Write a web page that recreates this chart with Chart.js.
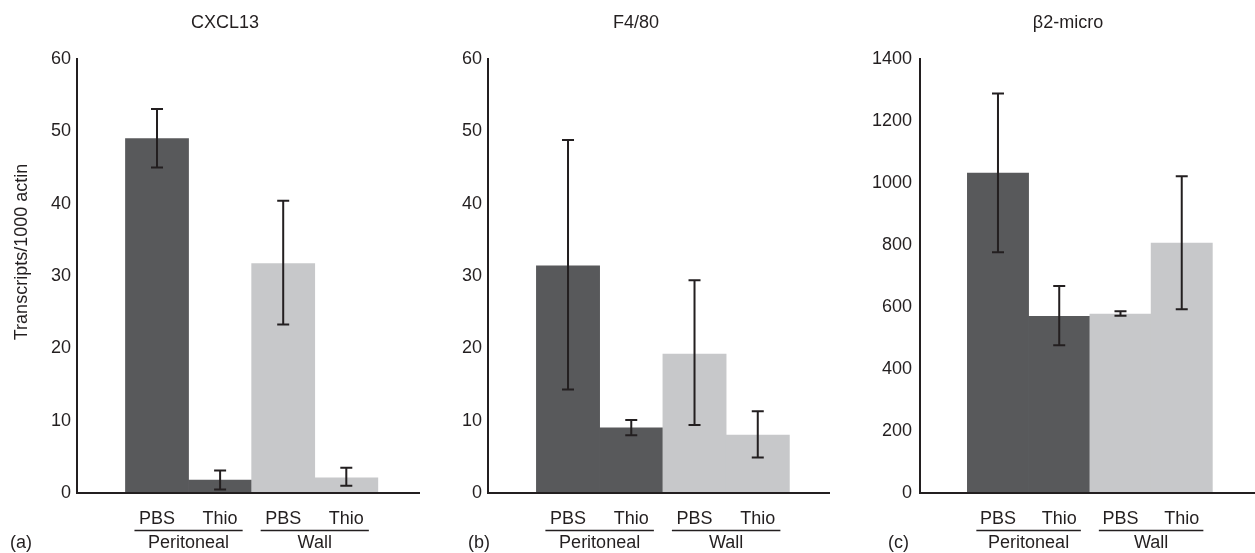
<!DOCTYPE html>
<html><head><meta charset="utf-8">
<script src="https://cdn.jsdelivr.net/npm/chart.js@4/dist/chart.umd.min.js"></script>
<style>
html,body{margin:0;padding:0;background:#fff;overflow:hidden;width:1255px;height:553px}
canvas{position:absolute;top:0}
</style></head><body>
<canvas id="pa" width="420" height="553" style="left:0px"></canvas>
<canvas id="pb" width="410" height="553" style="left:420px"></canvas>
<canvas id="pc" width="425" height="553" style="left:830px"></canvas>
<script>
// ---- data ----
const categories = ['PBS', 'Thio', 'PBS', 'Thio'];
const groupLabels = ['Peritoneal', 'Wall'];
const groupOf = [0, 0, 1, 1];
const titles = ['CXCL13', 'F4/80', 'β2-micro'];
const panelLetters = ['(a)', '(b)', '(c)'];
const yAxisTitle = 'Transcripts/1000 actin';

const cxcl13Mean = [49.0, 1.8, 31.7, 2.1];
const cxcl13Low  = [45.0, 0.5, 23.3, 1.0];
const cxcl13High = [53.1, 3.1, 40.4, 3.5];

const f480Mean = [31.4, 9.0, 19.2, 8.0];
const f480Low  = [14.3, 8.0, 9.4, 4.9];
const f480High = [48.8, 10.1, 29.4, 11.3];

const b2mMean = [1032, 570, 577, 806];
const b2mLow  = [777, 477, 572, 593];
const b2mHigh = [1289, 668, 586, 1022];

const cxcl13Ticks = [0, 10, 20, 30, 40, 50, 60];
const f480Ticks = [0, 10, 20, 30, 40, 50, 60];
const b2mTicks = [0, 200, 400, 600, 800, 1000, 1200, 1400];

// ---- style ----
const DARK = '#58595b', LIGHT = '#c7c8ca', INK = '#231f20';
const barColors = [DARK, DARK, LIGHT, LIGHT];
const FONT = '"Liberation Sans", Arial, Helvetica, sans-serif';

const panels = [
  {id: 'pa', title: titles[0], letter: panelLetters[0], mean: cxcl13Mean, low: cxcl13Low, high: cxcl13High, ticks: cxcl13Ticks,
   axisW: 77, tickPad: 6, xMin: -1.268, xMax: 4.168, letterX: 10, yTitle: true},
  {id: 'pb', title: titles[1], letter: panelLetters[1], mean: f480Mean, low: f480Low, high: f480High, ticks: f480Ticks,
   axisW: 68, tickPad: 6, xMin: -1.265, xMax: 4.142, letterX: 48, yTitle: false},
  {id: 'pc', title: titles[2], letter: panelLetters[2], mean: b2mMean, low: b2mLow, high: b2mHigh, ticks: b2mTicks,
   axisW: 90, tickPad: 8, xMin: -1.273, xMax: 4.196, letterX: 58, yTitle: false}
];

function errorBarsPlugin(p) {
  return {
    id: 'errorBars',
    afterDatasetsDraw(chart) {
      const meta = chart.getDatasetMeta(0);
      const ys = chart.scales.y;
      const ctx = chart.ctx;
      ctx.save();
      ctx.strokeStyle = INK;
      ctx.lineWidth = 2;
      meta.data.forEach((bar, i) => {
        const x = bar.x;
        const yl = ys.getPixelForValue(p.low[i]);
        const yh = ys.getPixelForValue(p.high[i]);
        ctx.beginPath();
        ctx.moveTo(x, yl); ctx.lineTo(x, yh);
        ctx.moveTo(x - 6, yl); ctx.lineTo(x + 6, yl);
        ctx.moveTo(x - 6, yh); ctx.lineTo(x + 6, yh);
        ctx.stroke();
      });
      ctx.restore();
    }
  };
}

function panelTextPlugin(p) {
  return {
    id: 'panelText',
    afterDraw(chart) {
      const ctx = chart.ctx, ca = chart.chartArea;
      const meta = chart.getDatasetMeta(0);
      ctx.save();
      ctx.fillStyle = INK;
      ctx.strokeStyle = INK;
      ctx.font = '18px ' + FONT;
      ctx.textBaseline = 'alphabetic';
      ctx.textAlign = 'center';
      ctx.fillText(p.title, ca.left + 148, 28);
      groupLabels.forEach((g, gi) => {
        const idx = groupOf.map((v, i) => (v === gi ? i : -1)).filter(i => i >= 0);
        const first = meta.data[idx[0]], last = meta.data[idx[idx.length - 1]];
        const x0 = first.x - first.width / 2 + 9;
        const x1 = last.x + last.width / 2 - 9;
        ctx.lineWidth = 1.6;
        ctx.beginPath();
        ctx.moveTo(x0, ca.bottom + 37.5);
        ctx.lineTo(x1, ca.bottom + 37.5);
        ctx.stroke();
        ctx.fillText(g, (x0 + x1) / 2, ca.bottom + 55);
      });
      ctx.textAlign = 'left';
      ctx.fillText(p.letter, p.letterX, ca.bottom + 55);
      if (p.yTitle) {
        ctx.translate(26.5, (ca.top + ca.bottom) / 2 - 24);
        ctx.rotate(-Math.PI / 2);
        ctx.textAlign = 'center';
        ctx.fillText(yAxisTitle, 0, 0);
      }
      ctx.restore();
    }
  };
}

panels.forEach(p => {
  new Chart(document.getElementById(p.id), {
    type: 'bar',
    data: {
      datasets: [{
        data: p.mean.map((v, i) => ({x: i, y: v})),
        backgroundColor: barColors,
        borderWidth: 0,
        categoryPercentage: 1,
        barPercentage: 1
      }]
    },
    options: {
      responsive: false,
      animation: false,
      devicePixelRatio: 1,
      layout: {padding: {top: 59, left: 0, right: 0, bottom: 0}},
      plugins: {legend: {display: false}, tooltip: {enabled: false}, title: {display: false}},
      scales: {
        x: {
          type: 'linear',
          offset: false,
          min: p.xMin, max: p.xMax,
          afterFit: s => { s.height = 60; s.paddingLeft = 0; s.paddingRight = 0; },
          grid: {display: false, drawTicks: false, offset: false},
          border: {display: true, color: INK, width: 2, z: 1},
          ticks: {
            stepSize: 1, includeBounds: false, autoSkip: false, maxRotation: 0, minRotation: 0,
            padding: 15, color: INK, font: {family: FONT, size: 18},
            callback: v => (categories[v] !== undefined ? categories[v] : '')
          }
        },
        y: {
          min: p.ticks[0], max: p.ticks[p.ticks.length - 1],
          afterFit: s => { s.width = p.axisW; },
          grid: {display: false, drawTicks: false},
          border: {display: true, color: INK, width: 2, z: 1},
          ticks: {
            stepSize: p.ticks[1] - p.ticks[0], padding: p.tickPad, color: INK,
            font: {family: FONT, size: 18},
            callback: v => String(v)
          }
        }
      }
    },
    plugins: [errorBarsPlugin(p), panelTextPlugin(p)]
  });
});
</script>
</body></html>
